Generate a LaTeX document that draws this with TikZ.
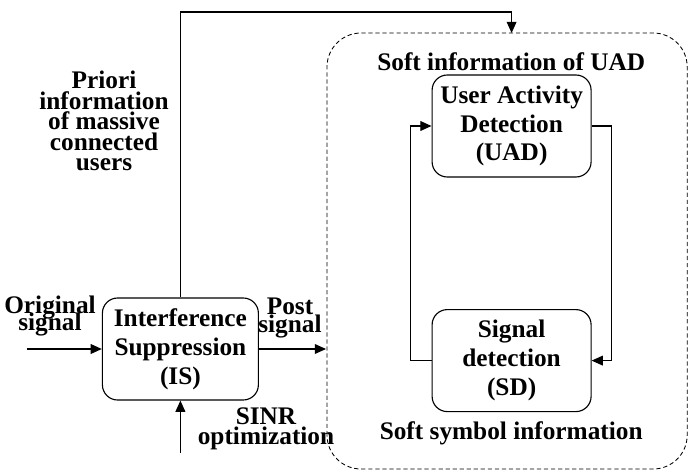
\documentclass[tikz,border=0pt]{standalone}
\usepackage{fontspec}
\setmainfont{Liberation Serif}
\usetikzlibrary{arrows.meta}
\AtBeginDocument{\lineskiplimit=-30pt}

\tikzset{
  blk/.style={draw, line width=0.8pt, rounded corners=0.38cm, align=center,
    minimum width=3.9cm, minimum height=2.55cm, inner sep=0pt,
    font=\fontsize{18}{20.5}\selectfont\bfseries},
  lbl/.style={align=center, inner sep=0pt,
    font=\fontsize{18}{#1}\selectfont\bfseries},
  lbl/.default=14.5,
  arr/.style={line width=0.8pt, -{Triangle[length=8pt,width=7pt]}}
}

\begin{document}
\begin{tikzpicture}
    \useasboundingbox (0,0) rectangle (17.2,11.825);

    % outer dashed region
    \draw [line width=0.6pt, dash pattern=on 3pt off 2pt, rounded corners=0.85cm]
        (8.175,0.1) rectangle (17.18,11.0);

    % blocks
    \node [blk] (is) at (4.51,3.1) {Interference\\Suppression\\(IS)};
    \node [blk, minimum width=3.975cm] (uad) at (12.79,8.675) {User Activity\\Detection\\(UAD)};
    \node [blk, minimum width=3.975cm] (sd) at (12.79,2.81) {Signal\\detection\\(SD)};

    % free ends
    \coordinate (osrc) at (0.675,3.1);
    \coordinate (pin) at (8.15,3.1);
    \coordinate (sinr) at (4.51,0.5);
    \coordinate (top) at (12.79,11.525);
    \coordinate (din) at (12.79,11.0);

    \draw [arr] (osrc) -- (is.west);
    \draw [arr] (is.east) -- (pin);
    \draw [arr] (sinr) -- (is.south);
    \draw [arr] (is.north) |- (top) -- (din);

    % loop between UAD and SD
    \draw [arr] (sd.west) -- ++(-0.525,0) |- (uad.west);
    \draw [arr] (uad.east) -- ++(0.5,0) |- (sd.east);

    % labels
    \node [lbl] (prior) at (2.6,8.8) {Priori\\information\\of massive\\connected\\users};
    \node [lbl=12.5] (orig) at (1.25,3.92) {Original\\signal};
    \node [lbl=12.5] (post) at (7.25,3.87) {Post\\signal};
    \node [lbl] (sinrl) at (6.65,1.1) {SINR\\optimization};
    \node [lbl] (softu) at (12.78,10.275) {Soft information of UAD};
    \node [lbl] (softs) at (12.78,1.0) {Soft symbol information};

\end{tikzpicture}
\end{document}
